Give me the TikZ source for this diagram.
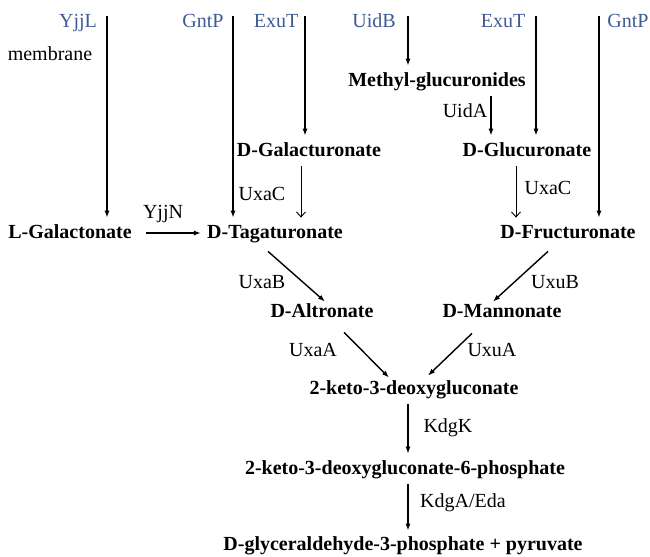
\documentclass[tikz,border=0pt]{standalone}
\usepackage{fontspec}
\setmainfont{Liberation Serif}
\usetikzlibrary{arrows.meta}
\definecolor{trblue}{RGB}{60,90,150}

\begin{document}
\begin{tikzpicture}[x=.5pt, y=-.5pt,
	every node/.style={inner sep=1pt, text height=7pt, text depth=2pt},
	met/.style={font=\bfseries},
	trans/.style={text=trblue},
	arr/.style={line width=.7pt, -{Latex[length=3.5pt,width=2.6pt]}, shorten >=2pt, shorten <=2pt},
	diag/.style={arr, shorten >=0pt, shorten <=0pt},
	thinarr/.style={line width=.45pt, -{Straight Barb[length=2.5pt,width=4.5pt]}, shorten >=2pt, shorten <=2pt}]
	\useasboundingbox (0,0) rectangle (650,557);
	\node[trans] (yjjl) at (78,22) {YjjL};
	\node[trans] (gntpl) at (203,22) {GntP};
	\node[trans] (exutl) at (276,22) {ExuT};
	\node[trans] (uidb) at (374,22) {UidB};
	\node[trans] (exutr) at (503,22) {ExuT};
	\node[trans] (gntpr) at (628,22) {GntP};
	\node (membrane) at (50,56) {membrane};
	\coordinate (tyjjl) at (107,12);
	\coordinate (tgntpl) at (233,12);
	\coordinate (texutl) at (305,12);
	\coordinate (tuidb) at (408,12);
	\coordinate (texutr) at (536,12);
	\coordinate (tgntpr) at (599,12);
	\node[met] (methyl) at (437,81) {Methyl-glucuronides};
	\node[met] (galu) at (309,151) {D-Galacturonate};
	\node[met] (glc) at (527,151) {D-Glucuronate};
	\node[met] (lgal) at (70,233) {L-Galactonate};
	\node[met] (tag) at (275,233) {D-Tagaturonate};
	\node[met] (fru) at (568,233) {D-Fructuronate};
	\node[met] (alt) at (322,313) {D-Altronate};
	\node[met] (man) at (502,313) {D-Mannonate};
	\node[met] (kdg) at (414,389) {2-keto-3-deoxygluconate};
	\node[met] (kdgp) at (405,469) {2-keto-3-deoxygluconate-6-phosphate};
	\node[met] (gap) at (403,546) {D-glyceraldehyde-3-phosphate + pyruvate};
	\node (uida) at (465,113) {UidA};
	\node (uxacl) at (262,195) {UxaC};
	\node (uxacr) at (548,189) {UxaC};
	\node (yjjn) at (163,214) {YjjN};
	\node (uxab) at (262,283) {UxaB};
	\node (uxub) at (555,284) {UxuB};
	\node (uxaa) at (313,352) {UxaA};
	\node (uxua) at (492,352) {UxuA};
	\node (kdgk) at (448,427) {KdgK};
	\node (kdga) at (463,503) {KdgA/Eda};
	\draw[arr] (tyjjl) -- (tyjjl |- lgal.north);
	\draw[arr] (tgntpl) -- (tgntpl |- tag.north);
	\draw[arr] (texutl) -- (texutl |- galu.north);
	\draw[arr] (tuidb) -- (tuidb |- methyl.north);
	\draw[arr] (texutr) -- (texutr |- glc.north);
	\draw[arr] (tgntpr) -- (tgntpr |- fru.north);
	\draw[arr] (methyl.south -| 491,0) -- (glc.north -| 491,0);
	\draw[thinarr] (galu.south -| 301,0) -- (tag.north -| 301,0);
	\draw[thinarr] (glc.south -| 516,0) -- (fru.north -| 516,0);
	\draw[arr, shorten <=6pt] (lgal.east) -- (tag.west);
	\draw[diag] ([xshift=-3.5pt,yshift=-3.5pt]tag.south) -- ([xshift=1.5pt]alt.north);
	\draw[diag] ([xshift=-10pt,yshift=-3.5pt]fru.south) -- ([xshift=-4.5pt]man.north);
	\draw[diag] ([xshift=11pt,yshift=-4pt]alt.south) -- ([xshift=-12.5pt]kdg.north);
	\draw[diag] ([xshift=-15pt,yshift=-4.5pt]man.south) -- ([xshift=7pt,yshift=1pt]kdg.north);
	\draw[arr] (kdg.south -| 408,0) -- (kdgp.north -| 408,0);
	\draw[arr] (kdgp.south -| 408,0) -- (gap.north -| 408,0);
\end{tikzpicture}
\end{document}
